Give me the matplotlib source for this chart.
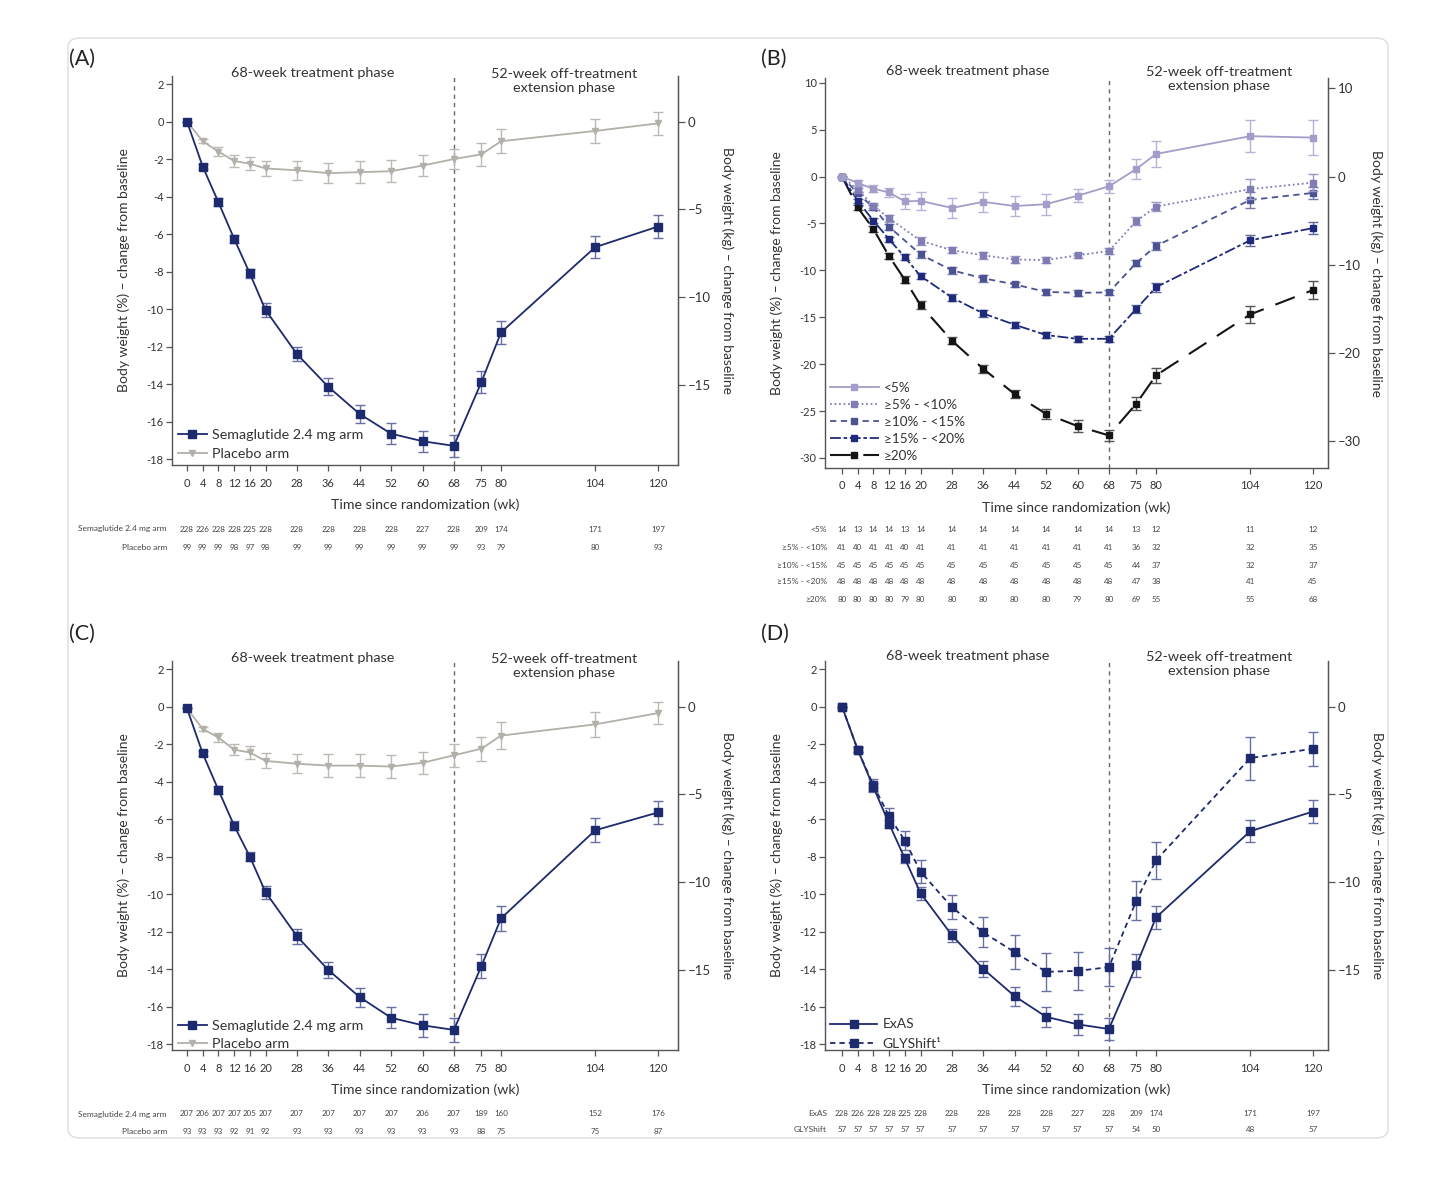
import numpy as np
import matplotlib
matplotlib.use("Agg")
import matplotlib.pyplot as plt
import matplotlib.transforms as mtransforms
from matplotlib.patches import FancyBboxPatch

plt.rcParams['font.family'] = ['Lato', 'DejaVu Sans']

# ---------------- data ----------------
weeks = [0, 4, 8, 12, 16, 20, 28, 36, 44, 52, 60, 68, 75, 80, 104, 120]
week_labels = [str(w) for w in weeks]

# Panel A
sema_A = [0, -2.4, -4.3, -6.25, -8.1, -10.05, -12.4, -14.15, -15.6, -16.65, -17.05, -17.3, -13.9, -11.25, -6.7, -5.6]
sema_A_err = [0, 0.12, 0.2, 0.22, 0.25, 0.35, 0.35, 0.45, 0.5, 0.55, 0.55, 0.6, 0.6, 0.6, 0.6, 0.6]
plac_A = [0, -1.05, -1.6, -2.1, -2.25, -2.5, -2.6, -2.75, -2.7, -2.65, -2.35, -2.0, -1.75, -1.05, -0.5, -0.1]
plac_A_err = [0, 0.12, 0.25, 0.3, 0.35, 0.4, 0.5, 0.55, 0.6, 0.6, 0.55, 0.55, 0.6, 0.65, 0.65, 0.6]
n_sema_A = [228, 226, 228, 228, 225, 228, 228, 228, 228, 228, 227, 228, 209, 174, 171, 197]
n_plac_A = [99, 99, 99, 98, 97, 98, 99, 99, 99, 99, 99, 99, 93, 79, 80, 93]

# Panel B
lt5 = [0, -0.7, -1.3, -1.7, -2.65, -2.6, -3.35, -2.7, -3.15, -2.95, -2.05, -1.05, 0.8, 2.4, 4.3, 4.15]
lt5_err = [0, 0.3, 0.4, 0.5, 0.8, 1.0, 1.1, 1.1, 1.1, 1.1, 0.7, 0.7, 1.1, 1.4, 1.7, 1.9]
p5_10 = [0, -1.4, -3.1, -4.45, np.nan, -6.85, -7.85, -8.4, -8.85, -8.9, -8.4, -7.95, -4.75, -3.2, -1.35, -0.65]
p5_10_err = [0, 0.2, 0.3, 0.35, np.nan, 0.4, 0.35, 0.4, 0.35, 0.3, 0.3, 0.3, 0.4, 0.45, 1.1, 0.9]
p10_15 = [0, -1.8, -3.3, -5.35, np.nan, -8.3, -10.0, -10.85, -11.5, -12.3, -12.4, -12.35, -9.2, -7.4, -2.5, -1.75]
p10_15_err = [0, 0.2, 0.25, 0.3, np.nan, 0.35, 0.35, 0.35, 0.3, 0.3, 0.3, 0.3, 0.35, 0.4, 0.9, 0.6]
p15_20 = [0, -2.6, -4.7, -6.7, -8.6, -10.6, -12.9, -14.6, -15.8, -16.9, -17.3, -17.3, -14.1, -11.8, -6.8, -5.5]
p15_20_err = [0, 0.2, 0.3, 0.3, 0.3, 0.3, 0.35, 0.35, 0.3, 0.3, 0.3, 0.3, 0.45, 0.5, 0.6, 0.6]
ge20 = [0, -3.3, -5.6, -8.5, -11.0, -13.7, -17.5, -20.5, -23.2, -25.3, -26.6, -27.6, -24.2, -21.2, -14.7, -12.1]
ge20_err = [0, 0.3, 0.3, 0.3, 0.35, 0.4, 0.4, 0.45, 0.45, 0.5, 0.6, 0.6, 0.7, 0.8, 0.9, 1.0]
b_labels = ['<5%', '≥5% - <10%', '≥10% - <15%', '≥15% - <20%', '≥20%']
n_lt5 = [14, 13, 14, 14, 13, 14, 14, 14, 14, 14, 14, 14, 13, 12, 11, 12]
n_p5_10 = [41, 40, 41, 41, 40, 41, 41, 41, 41, 41, 41, 41, 36, 32, 32, 35]
n_p10_15 = [45, 45, 45, 45, 45, 45, 45, 45, 45, 45, 45, 45, 44, 37, 32, 37]
n_p15_20 = [48, 48, 48, 48, 48, 48, 48, 48, 48, 48, 48, 48, 47, 38, 41, 45]
n_ge20 = [80, 80, 80, 80, 79, 80, 80, 80, 80, 80, 79, 80, 69, 55, 55, 68]

# Panel C
sema_C = [-0.1, -2.5, -4.45, -6.35, -8.0, -9.9, -12.25, -14.05, -15.5, -16.6, -17.0, -17.25, -13.85, -11.3, -6.6, -5.65]
sema_C_err = [0, 0.12, 0.2, 0.22, 0.25, 0.35, 0.4, 0.45, 0.5, 0.55, 0.6, 0.65, 0.65, 0.65, 0.65, 0.6]
plac_C = [-0.1, -1.2, -1.65, -2.3, -2.45, -2.9, -3.05, -3.15, -3.15, -3.2, -3.0, -2.6, -2.25, -1.55, -0.95, -0.35]
plac_C_err = [0, 0.12, 0.25, 0.3, 0.35, 0.4, 0.5, 0.6, 0.6, 0.6, 0.6, 0.6, 0.65, 0.7, 0.65, 0.6]
n_sema_C = [207, 206, 207, 207, 205, 207, 207, 207, 207, 207, 206, 207, 189, 160, 152, 176]
n_plac_C = [93, 93, 93, 92, 91, 92, 93, 93, 93, 93, 93, 93, 88, 75, 75, 87]

# Panel D
exas_D = [0, -2.3, -4.3, -6.25, -8.1, -9.95, -12.2, -14.0, -15.45, -16.55, -16.95, -17.2, -13.8, -11.25, -6.65, -5.6]
exas_D_err = [0, 0.12, 0.2, 0.22, 0.25, 0.35, 0.35, 0.45, 0.5, 0.55, 0.55, 0.6, 0.6, 0.6, 0.6, 0.6]
gly_D = [0, -2.3, -4.2, -5.85, -7.15, -8.8, -10.7, -12.05, -13.1, -14.15, -14.1, -13.9, -10.35, -8.2, -2.75, -2.25]
gly_D_err = [0, 0.15, 0.35, 0.45, 0.5, 0.6, 0.65, 0.8, 0.9, 1.0, 1.0, 1.0, 1.05, 1.0, 1.15, 0.9]
n_exas = [228, 226, 228, 228, 225, 228, 228, 228, 228, 228, 227, 228, 209, 174, 171, 197]
n_gly = [57, 57, 57, 57, 57, 57, 57, 57, 57, 57, 57, 57, 54, 50, 48, 57]

# ---------------- style ----------------
W, H = 1456, 1183
NAVY = '#1d2a6e'
NAVY_ERR = '#6870a3'
GREY = '#b3afa9'
GREY_ERR = '#bcb8b2'
SPINE = '#555555'
TXT = '#333333'
KG = 1.066

fig = plt.figure(figsize=(W / 100, H / 100), dpi=100)
fig.patch.set_facecolor('white')
fig.patches.append(FancyBboxPatch((68 / W, 1 - 1138 / H), (1388 - 68) / W, (1138 - 38) / H,
                                  boxstyle='round,pad=0,rounding_size=0.008',
                                  transform=fig.transFigure, fill=False,
                                  edgecolor='#dddddd', linewidth=1.0))


def add_ax(x0, y0, x1, y1):
    return fig.add_axes([x0 / W, 1 - y1 / H, (x1 - x0) / W, (y1 - y0) / H])


def style_axes(ax, ylim, yticks, kgticks, x0px, x1px, zero_px):
    pxw = (x1px - x0px)
    scale = 3.925
    ax.set_xlim(-(zero_px - x0px) / scale, -(zero_px - x0px) / scale + pxw / scale)
    ax.set_ylim(*ylim)
    ax.set_xticks(weeks)
    ax.set_xticklabels(week_labels)
    ax.set_yticks(yticks)
    ax.set_yticklabels([str(t) for t in yticks])
    ax.spines['top'].set_visible(False)
    for s in ['left', 'bottom', 'right']:
        ax.spines[s].set_color(SPINE)
        ax.spines[s].set_linewidth(1.0)
    ax.tick_params(axis='both', direction='out', length=4, width=0.9, color=SPINE,
                   labelsize=8, labelcolor=TXT, pad=2)
    ax.tick_params(axis='x', pad=5)
    ax.set_xlabel('Time since randomization (wk)', fontsize=10.2, color=TXT, labelpad=7)
    ax.set_ylabel('Body weight (%) – change from baseline', fontsize=10, color=TXT, labelpad=12)
    ax2 = ax.twinx()
    ax2.set_ylim(ylim[0] * KG, ylim[1] * KG)
    ax2.set_yticks(kgticks)
    ax2.set_yticklabels([str(t).replace('-', '–') for t in kgticks])
    for s in ['top', 'left', 'bottom']:
        ax2.spines[s].set_visible(False)
    ax2.spines['right'].set_color(SPINE)
    ax2.tick_params(axis='y', direction='out', length=5, width=0.9, color=SPINE,
                    labelsize=9.5, labelcolor=TXT, pad=2)
    ax2.set_ylabel('Body weight (kg) – change from baseline', fontsize=10, color=TXT,
                   rotation=270, labelpad=16)
    ax.axvline(68, color='#666666', lw=1.0, ls=(0, (3, 3)), zorder=1, clip_on=False)
    tr = mtransforms.blended_transform_factory(ax.transData, fig.transFigure)
    return ax2, tr


def phase_text(ax, tr, ytop):
    ax.text(32, 1 - (ytop + 0) / H, '68-week treatment phase', transform=tr,
            ha='center', va='center', fontsize=10.4, color=TXT)
    ax.text(96, 1 - (ytop + 8) / H, '52-week off-treatment\nextension phase', transform=tr,
            ha='center', va='center', fontsize=10.4, color=TXT, linespacing=1.2)


def table(ax, tr, label_x, rows, ys):
    for (lab, vals), y in zip(rows, ys):
        fig.text(label_x / W, 1 - y / H, lab, ha='right', va='center', fontsize=6, color='#444444')
        for w, v in zip(weeks, vals):
            ax.text(w, 1 - y / H, str(v), transform=tr, ha='center', va='center',
                    fontsize=5.8, color='#444444')


def series(ax, x, y, e, color, ecolor, marker, ls, label, ms=5, lw=1.3, z=3, dashes=None):
    x = np.asarray(x, float)
    y = np.asarray(y, float)
    e = np.asarray(e, float)
    m = ~np.isnan(y)
    ax.errorbar(x[m], y[m], yerr=e[m], fmt='none', ecolor=ecolor, elinewidth=1.0,
                capsize=3.5, capthick=1.0, zorder=z)
    kw = dict(color=color, lw=lw, marker=marker, ms=ms, mfc=color, mec=color, label=label, zorder=z + 0.5)
    if dashes is not None:
        line, = ax.plot(x[m], y[m], ls='--', dashes=dashes, **kw)
    else:
        line, = ax.plot(x[m], y[m], ls=ls, **kw)
    return line


def panel_label(px, py, s):
    fig.text(px / W, 1 - py / H, s, fontsize=15.5, color='#222222', va='center', ha='left')


# ---------------- Panel A ----------------
axA = add_ax(172, 76, 678, 465)
axA2, trA = style_axes(axA, (-18.32, 2.43), list(range(2, -19, -2)), [0, -5, -10, -15], 172, 678, 187)
phase_text(axA, trA, 73)
series(axA, weeks, plac_A, plac_A_err, GREY, GREY_ERR, 'v', '-', 'Placebo arm', ms=5, z=3)
series(axA, weeks, sema_A, sema_A_err, NAVY, NAVY_ERR, 's', '-', 'Semaglutide 2.4 mg arm', ms=5.5, z=4)
h, l = axA.get_legend_handles_labels()
axA.legend(h[::-1], l[::-1], loc='lower left', bbox_to_anchor=(0.012, 0.012), frameon=False,
           fontsize=10.3, handlelength=2.0, handletextpad=0.4, labelspacing=0.5,
           borderpad=0, borderaxespad=0, labelcolor=TXT)
table(axA, trA, 167, [('Semaglutide 2.4 mg arm', n_sema_A), ('Placebo arm', n_plac_A)], [529, 547])
panel_label(69, 59, '(A)')

# ---------------- Panel B ----------------
axB = add_ax(825, 78, 1328, 468)
axB2, trB = style_axes(axB, (-31.07, 10.5), list(range(10, -31, -5)), [10, 0, -10, -20, -30], 825, 1328, 842)
phase_text(axB, trB, 71)
bcols = ['#a29ec9', '#807cb4', '#4b5395', '#1f2b7a', '#151515']
becols = ['#b6b3d6', '#9a97c4', '#7379aa', '#5f6797', '#555555']
hb = []
hb.append(series(axB, weeks, ge20, ge20_err, bcols[4], becols[4], 's', '--', b_labels[4], z=2, lw=1.5, dashes=(10, 6)))
hb.append(series(axB, weeks, p15_20, p15_20_err, bcols[3], becols[3], 's', '--', b_labels[3], z=3, dashes=(6, 1.5, 2, 1.5)))
hb.append(series(axB, weeks, p10_15, p10_15_err, bcols[2], becols[2], 's', '--', b_labels[2], z=4, dashes=(3.5, 2.5)))
hb.append(series(axB, weeks, p5_10, p5_10_err, bcols[1], becols[1], 's', ':', b_labels[1], z=5, dashes=(1, 1.5)))
hb.append(series(axB, weeks, lt5, lt5_err, bcols[0], becols[0], 's', '-', b_labels[0], z=6))
axB.legend(hb[::-1], b_labels, loc='lower left', bbox_to_anchor=(0.01, 0.015), frameon=False,
           fontsize=9.7, handlelength=3.6, handletextpad=0.4, labelspacing=0.38,
           borderpad=0, borderaxespad=0, labelcolor=TXT)
table(axB, trB, 827, [(b_labels[0], n_lt5), (b_labels[1], n_p5_10), (b_labels[2], n_p10_15),
                      (b_labels[3], n_p15_20), (b_labels[4], n_ge20)], [529, 547, 565, 582, 599])
panel_label(761, 59, '(B)')

# ---------------- Panel C ----------------
axC = add_ax(172, 661, 678, 1050)
axC2, trC = style_axes(axC, (-18.32, 2.43), list(range(2, -19, -2)), [0, -5, -10, -15], 172, 678, 187)
phase_text(axC, trC, 658)
series(axC, weeks, plac_C, plac_C_err, GREY, GREY_ERR, 'v', '-', 'Placebo arm', ms=5, z=3)
series(axC, weeks, sema_C, sema_C_err, NAVY, NAVY_ERR, 's', '-', 'Semaglutide 2.4 mg arm', ms=5.5, z=4)
h, l = axC.get_legend_handles_labels()
axC.legend(h[::-1], l[::-1], loc='lower left', bbox_to_anchor=(0.012, 0.0), frameon=False,
           fontsize=10.3, handlelength=2.0, handletextpad=0.4, labelspacing=0.45,
           borderpad=0, borderaxespad=0, labelcolor=TXT)
table(axC, trC, 167, [('Semaglutide 2.4 mg arm', n_sema_C), ('Placebo arm', n_plac_C)], [1114, 1132])
panel_label(69, 634, '(C)')

# ---------------- Panel D ----------------
axD = add_ax(825, 661, 1328, 1050)
axD2, trD = style_axes(axD, (-18.32, 2.43), list(range(2, -19, -2)), [0, -5, -10, -15], 825, 1328, 842)
phase_text(axD, trD, 656)
hg = series(axD, weeks, gly_D, gly_D_err, NAVY, NAVY_ERR, 's', '--', 'GLYShift¹', ms=6, z=3, dashes=(3, 2.2))
he = series(axD, weeks, exas_D, exas_D_err, NAVY, NAVY_ERR, 's', '-', 'ExAS', ms=6, z=4)
axD.legend([he, hg], ['ExAS', 'GLYShift¹'], loc='lower left', bbox_to_anchor=(0.01, 0.0), frameon=False,
           fontsize=10, handlelength=3.4, handletextpad=0.4, labelspacing=0.55,
           borderpad=0, borderaxespad=0, labelcolor=TXT)
table(axD, trD, 827, [('ExAS', n_exas), ('GLYShift', n_gly)], [1114, 1130])
panel_label(761, 634, '(D)')

fig.savefig('out.png', dpi=100, facecolor='white')
